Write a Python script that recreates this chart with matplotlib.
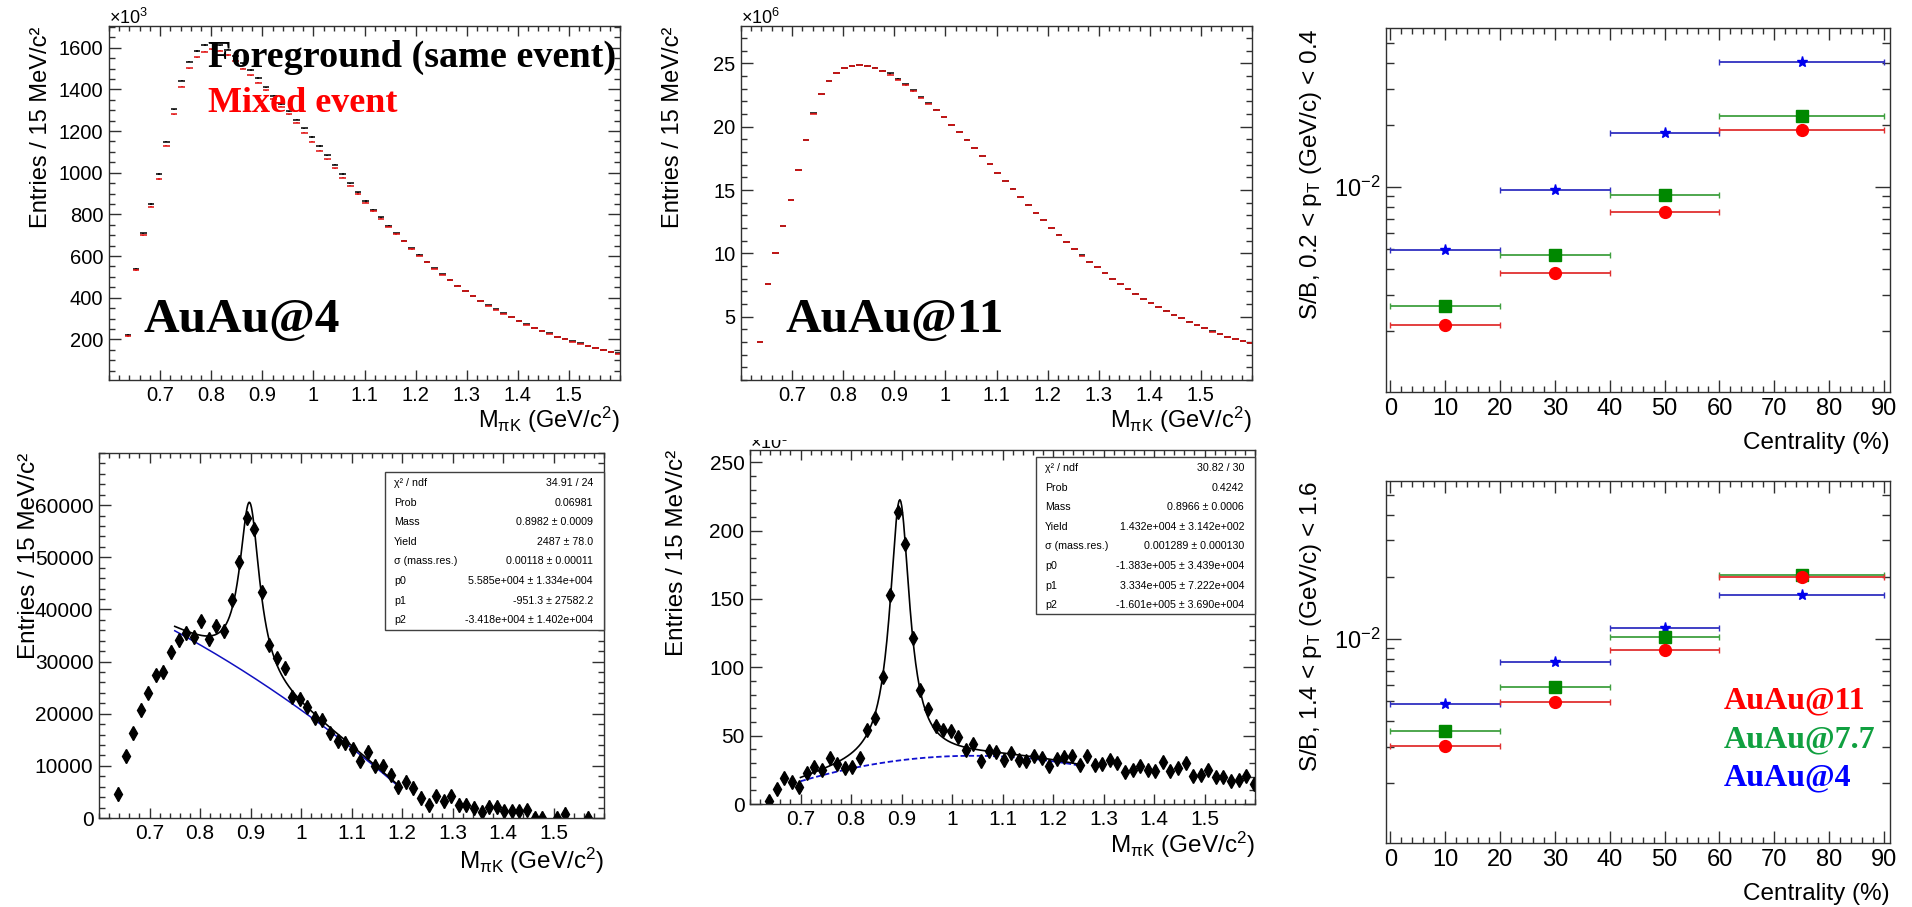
import numpy as np
import matplotlib
matplotlib.use("Agg")
import matplotlib.pyplot as plt
from matplotlib.patches import Rectangle
from matplotlib.transforms import Bbox
from matplotlib.ticker import MultipleLocator, FixedLocator, NullFormatter

plt.rcParams['font.family'] = ['Liberation Sans', 'DejaVu Sans']
plt.rcParams['mathtext.fontset'] = 'custom'
plt.rcParams['mathtext.rm'] = 'Liberation Sans'
plt.rcParams['mathtext.it'] = 'Liberation Sans:italic'
plt.rcParams['mathtext.bf'] = 'Liberation Sans:bold'

W, H = 1912, 907

# ---------------- data ----------------
# 15 MeV bins of the pi-K invariant mass, first edge at 0.63 GeV
bin_edge0 = 0.63
bin_width = 0.015
n_bins = 65

# AuAu@4: same-event and mixed-event distributions (x10^3 entries)
fg_auau4 = [221, 540, 709, 850, 994, 1149, 1304, 1442, 1533, 1584, 1613, 1621, 1612, 1590, 1560,
            1525, 1493, 1455, 1410, 1370, 1330, 1295, 1255, 1213, 1171, 1128, 1083, 1038, 994, 949,
            906, 864, 821, 786, 744, 709, 674, 637, 605, 571, 541, 512, 485, 456, 434, 410, 386,
            363, 344, 325, 306, 288, 272, 256, 242, 229, 213, 202, 190, 181, 170, 160, 149, 141, 133]
mix_auau4 = [215, 533, 699, 837, 970, 1130, 1280, 1413, 1501, 1554, 1581, 1592, 1585, 1565, 1535,
             1500, 1468, 1432, 1395, 1355, 1316, 1280, 1240, 1192, 1149, 1106, 1064, 1021, 976, 938,
             898, 856, 816, 780, 740, 705, 670, 634, 602, 569, 539, 510, 483, 455, 433, 409, 385,
             362, 343, 324, 305, 287, 271, 255, 241, 228, 212, 201, 189, 180, 169, 159, 148, 140, 132]

# AuAu@11: same-event and mixed-event distributions (x10^6 entries)
fg_auau11 = [3.03, 7.58, 10.05, 12.16, 14.21, 16.58, 18.95, 21.05, 22.58, 23.61,
             24.21, 24.61, 24.79, 24.87, 24.82, 24.66, 24.42, 24.20, 23.80, 23.34,
             22.86, 22.34, 21.85, 21.33, 20.80, 20.17, 19.56, 18.96, 18.30, 17.69,
             17.04, 16.38, 15.72, 15.09, 14.43, 13.83, 13.22, 12.64, 12.04, 11.46,
             10.88, 10.38, 9.83, 9.35, 8.90, 8.43, 7.98, 7.56, 7.17, 6.80,
             6.40, 6.06, 5.75, 5.46, 5.14, 4.88, 4.59, 4.33, 4.09, 3.83,
             3.62, 3.38, 3.22, 3.06, 2.96]
mix_auau11 = [3.02, 7.57, 10.04, 12.15, 14.20, 16.57, 18.94, 21.04, 22.57, 23.60,
              24.20, 24.60, 24.78, 24.86, 24.80, 24.63, 24.36, 24.10, 23.70, 23.26,
              22.80, 22.30, 21.82, 21.31, 20.78, 20.16, 19.55, 18.95, 18.29, 17.68,
              17.03, 16.37, 15.71, 15.08, 14.42, 13.82, 13.21, 12.63, 12.03, 11.45,
              10.87, 10.37, 9.82, 9.34, 8.89, 8.42, 7.97, 7.55, 7.16, 6.79,
              6.39, 6.05, 5.74, 5.45, 5.13, 4.87, 4.58, 4.32, 4.08, 3.82,
              3.61, 3.37, 3.21, 3.05, 2.95]

# background-subtracted signal
nan = np.nan
sig_auau4 = [4640, 11830, 16220, 20670, 24050, 27350, 27990, 31870, 34100, 35500,
             34670, 37720, 34350, 36770, 35810, 41860, 49050, 57570, 55340, 43380,
             33270, 30600, 28820, 23220, 22770, 21310, 19270, 18830, 16220, 14820,
             14380, 13230, 11000, 12720, 10050, 10050, 8330, 5920, 6870, 5730,
             3880, 2420, 4130, 3180, 4130, 2540, 2540, 1910, 1150, 2100,
             2100, 1270, 1270, 1270, 1460, 60, 60, nan, 60, 830,
             nan, nan, 60, nan, nan]
sig_auau4_err = 1300
sig_auau11 = [1.95, 11.0, 19.0, 15.9, 12.4, 22.7, 26.8, 25.1, 33.7, 29.3,
              26.3, 26.8, 33.7, 54.4, 62.9, 92.9, 152.9, 213.4, 190.0, 121.5,
              83.7, 69.8, 56.8, 53.9, 53.2, 48.8, 39.8, 43.9, 31.7, 38.5,
              38.0, 32.0, 37.3, 32.0, 31.7, 34.9, 33.7, 27.6, 32.9, 34.1,
              34.9, 28.3, 34.9, 28.8, 29.5, 32.0, 30.0, 23.2, 25.1, 27.6,
              24.6, 24.4, 30.5, 24.4, 26.3, 30.0, 20.7, 21.5, 25.1, 19.5,
              19.8, 16.6, 17.8, 20.2, 14.9]
sig_auau11_err = 4.0

# fit results (Breit-Wigner + pol2)
kstar_width = 0.0478
fit4 = dict(mass=0.8982, yld=2487.0, p0=5.585e4, p1=-951.3, p2=-3.418e4, lo=0.75, hi=1.195)
fit11 = dict(mass=0.8966, yld=1.432e4, p0=-1.383e5, p1=3.334e5, p2=-1.601e5, lo=0.70, hi=1.25)

stat_names = ["χ² / ndf", "Prob", "Mass", "Yield", "σ (mass.res.)", "p0", "p1", "p2"]
stat_vals4 = ["34.91 / 24", "0.06981", "0.8982 ± 0.0009", "2487 ± 78.0", "0.00118 ± 0.00011",
              "5.585e+004 ± 1.334e+004", "-951.3 ± 27582.2", "-3.418e+004 ± 1.402e+004"]
stat_vals11 = ["30.82 / 30", "0.4242", "0.8966 ± 0.0006", "1.432e+004 ± 3.142e+002",
               "0.001289 ± 0.000130", "-1.383e+005 ± 3.439e+004", "3.334e+005 ± 7.222e+004",
               "-1.601e+005 ± 3.690e+004"]

# signal / background vs centrality
centrality = [10, 30, 50, 75]
centrality_err = [10, 10, 10, 15]
sb_low_11 = [2.14e-3, 3.82e-3, 7.52e-3, 1.90e-2]
sb_low_77 = [2.65e-3, 4.70e-3, 9.10e-3, 2.22e-2]
sb_low_4 = [4.97e-3, 9.63e-3, 1.82e-2, 4.06e-2]
sb_high_11 = [3.04e-3, 4.97e-3, 8.82e-3, 2.00e-2]
sb_high_77 = [3.60e-3, 5.89e-3, 1.02e-2, 2.04e-2]
sb_high_4 = [4.83e-3, 7.77e-3, 1.127e-2, 1.64e-2]

mass = bin_edge0 + bin_width * (np.arange(n_bins) + 0.5)

# ---------------- helpers ----------------
fig = plt.figure(figsize=(W / 100, H / 100), dpi=100)


def px_axes(l, t, r, b):
    return fig.add_axes([l / W, 1 - b / H, (r - l) / W, (b - t) / H])


def ftext(x, y, s, **kw):
    return fig.text(x / W, 1 - y / H, s, **kw)


def root_style(ax, labelsize=14.5, xmaj=7.2, ymaj=8.6):
    ax.tick_params(which='both', direction='in', top=True, right=True,
                   color='#303030', width=1.0, labelsize=labelsize, pad=4)
    ax.tick_params(axis='x', which='major', length=xmaj)
    ax.tick_params(axis='x', which='minor', length=xmaj / 2)
    ax.tick_params(axis='y', which='major', length=ymaj)
    ax.tick_params(axis='y', which='minor', length=ymaj / 2)
    for s in ax.spines.values():
        s.set_linewidth(1.0)
        s.set_color('#303030')


def mass_axis(ax):
    ax.set_xlim(0.6, 1.6)
    ax.xaxis.set_major_locator(FixedLocator([0.7, 0.8, 0.9, 1.0, 1.1, 1.2, 1.3, 1.4, 1.5]))
    ax.xaxis.set_major_formatter(plt.FixedFormatter(["0.7", "0.8", "0.9", "1", "1.1", "1.2", "1.3", "1.4", "1.5"]))
    ax.xaxis.set_minor_locator(MultipleLocator(0.02))


def fit_curve(f, m):
    bg = f['p0'] + f['p1'] * m + f['p2'] * m ** 2
    bw = f['yld'] * kstar_width / (2 * np.pi) / ((m - f['mass']) ** 2 + kstar_width ** 2 / 4)
    return bg + bw, bg


def stats_box(l, t, r, b, rows_top, vals):
    fig.add_artist(Rectangle((l / W, 1 - b / H), (r - l) / W, (b - t) / H,
                             transform=fig.transFigure, facecolor='white',
                             edgecolor='#404040', linewidth=1.0, zorder=5))
    for k, (name, val) in enumerate(zip(stat_names, vals)):
        y = rows_top + 19.6 * k
        ftext(l + 9, y, name, ha='left', va='center', fontsize=7.7, zorder=6)
        ftext(r - 11, y, val, ha='right', va='center', fontsize=7.7, zorder=6)


mlabel = r"M$_{\mathregular{πK}}$ (GeV/c$^{\mathregular{2}}$)"
ylab_mass = "Entries / 15 MeV/c²"
times = ['Liberation Serif', 'DejaVu Serif']

# ---------------- top left: AuAu@4 foreground / mixed ----------------
ax = px_axes(109, 26, 620, 380)
ax.errorbar(mass, fg_auau4, xerr=0.0065, yerr=3, fmt='none', ecolor='black', elinewidth=1.1)
ax.errorbar(mass, mix_auau4, xerr=0.0065, yerr=3, fmt='none', ecolor='#e01010', elinewidth=1.1)
mass_axis(ax)
ax.set_ylim(5, 1704)
ax.yaxis.set_major_locator(FixedLocator([200, 400, 600, 800, 1000, 1200, 1400, 1600]))
ax.yaxis.set_minor_locator(MultipleLocator(50))
root_style(ax)
ftext(109, 24, r"$\times$10$^{3}$", ha='left', va='baseline', fontsize=13)
ftext(41, 27, ylab_mass, rotation=90, ha='center', va='top', fontsize=17)
ftext(620, 428, mlabel, ha='right', va='baseline', fontsize=17)
ftext(208, 67, "Foreground (same event)", family=times, fontweight='bold', fontsize=27.5,
      ha='left', va='baseline', color='black')
ftext(208, 112, "Mixed event", family=times, fontweight='bold', fontsize=26,
      ha='left', va='baseline', color='#ff0000')
ftext(143, 332, "AuAu@4", family=times, fontweight='bold', fontsize=35.5,
      ha='left', va='baseline', color='black')

# ---------------- top middle: AuAu@11 foreground / mixed ----------------
ax = px_axes(741, 26, 1252, 380)
ax.errorbar(mass, fg_auau11, xerr=0.0065, yerr=0.03, fmt='none', ecolor='black', elinewidth=1.1)
ax.errorbar(mass, mix_auau11, xerr=0.0065, yerr=0.03, fmt='none', ecolor='#e01010', elinewidth=1.1)
mass_axis(ax)
ax.set_ylim(0, 27.95)
ax.yaxis.set_major_locator(FixedLocator([5, 10, 15, 20, 25]))
ax.yaxis.set_minor_locator(MultipleLocator(1))
root_style(ax)
ftext(741, 24, r"$\times$10$^{6}$", ha='left', va='baseline', fontsize=13)
ftext(673, 27, ylab_mass, rotation=90, ha='center', va='top', fontsize=17)
ftext(1252, 428, mlabel, ha='right', va='baseline', fontsize=17)
ftext(785, 332, "AuAu@11", family=times, fontweight='bold', fontsize=35.5,
      ha='left', va='baseline', color='black')

# ---------------- bottom left: AuAu@4 signal with fit ----------------
ax = px_axes(99, 453, 604, 818)
ax.errorbar(mass, sig_auau4, yerr=sig_auau4_err, fmt='d', color='black', markersize=7,
            elinewidth=1.0, capsize=0)
m4 = np.linspace(fit4['lo'], fit4['hi'], 300)
tot4, bg4 = fit_curve(fit4, m4)
ax.plot(m4, bg4, color='#1010c0', lw=1.1)
ax.plot(m4, tot4, color='black', lw=1.2)
mass_axis(ax)
ax.set_ylim(0, 70000)
ax.yaxis.set_major_locator(FixedLocator([0, 10000, 20000, 30000, 40000, 50000, 60000]))
ax.yaxis.set_minor_locator(MultipleLocator(2000))
root_style(ax, labelsize=15)
ftext(29, 453, ylab_mass, rotation=90, ha='center', va='top', fontsize=17.5)
ftext(604, 869, mlabel, ha='right', va='baseline', fontsize=17.5)
stats_box(385, 472, 604, 630, 483, stat_vals4)

# ---------------- bottom middle: AuAu@11 signal with fit ----------------
ax = px_axes(750, 450, 1255, 804)
ax.errorbar(mass, sig_auau11, yerr=sig_auau11_err, fmt='d', color='black', markersize=7,
            elinewidth=1.0, capsize=0)
m11 = np.linspace(fit11['lo'], fit11['hi'], 300)
tot11, bg11 = fit_curve(fit11, m11)
ax.plot(m11, bg11 / 1000, color='#1010d0', lw=1.3, ls=(0, (3, 1.5)))
ax.plot(m11, tot11 / 1000, color='black', lw=1.2)
mass_axis(ax)
ax.set_ylim(0, 259)
ax.yaxis.set_major_locator(MultipleLocator(50))
ax.yaxis.set_minor_locator(MultipleLocator(10))
root_style(ax, labelsize=15)
t = ftext(750, 449, r"$\times$10$^{3}$", ha='left', va='baseline', fontsize=13)
t.set_clip_box(Bbox.from_extents(700, 0, 900, H - 440))
ftext(677, 450, ylab_mass, rotation=90, ha='center', va='top', fontsize=17.5)
ftext(1255, 853, mlabel, ha='right', va='baseline', fontsize=17.5)
stats_box(1036, 457, 1255, 614, 468, stat_vals11)


# ---------------- right column: S/B vs centrality ----------------
def sb_panel(box, s11, s77, s4, ylabel, xlab_y, ylim):
    ax = px_axes(*box)
    ax.errorbar(centrality, s4, xerr=centrality_err, fmt='*', color='#0000ee', ecolor='#3030c0',
                markersize=8, elinewidth=1.3, capsize=2.5, capthick=1.0)
    ax.errorbar(centrality, s77, xerr=centrality_err, fmt='s', color='#008800', ecolor='#40a040',
                markersize=8, elinewidth=1.3, capsize=2.5, capthick=1.0)
    ax.errorbar(centrality, s11, xerr=centrality_err, fmt='o', color='#ff0000', ecolor='#e03030',
                markersize=8.5, elinewidth=1.3, capsize=2.5, capthick=1.0)
    ax.set_yscale('log')
    ax.set_xlim(-0.8, 91.1)
    ax.set_ylim(*ylim)
    ax.xaxis.set_major_locator(MultipleLocator(10))
    ax.xaxis.set_minor_locator(MultipleLocator(2))
    ax.yaxis.set_major_locator(FixedLocator([1e-2]))
    ax.yaxis.set_minor_locator(FixedLocator([2e-3, 3e-3, 4e-3, 5e-3, 6e-3, 7e-3, 8e-3, 9e-3,
                                             2e-2, 3e-2, 4e-2, 5e-2]))
    ax.yaxis.set_minor_formatter(NullFormatter())
    root_style(ax, labelsize=17, xmaj=8.6, ymaj=10.8)
    ax.tick_params(axis='y', which='minor', length=5.8)
    l, t, r, b = box
    ftext(1311, t, ylabel, rotation=90, ha='center', va='top', fontsize=17.5)
    ftext(r, xlab_y, "Centrality (%)", ha='right', va='baseline', fontsize=17.5)
    return ax


sb_panel((1386, 28, 1890, 392), sb_low_11, sb_low_77, sb_low_4,
         r"S/B, 0.2 < p$_{\mathregular{T}}$ (GeV/c) < 0.4", 449, (1.01e-3, 5.92e-2))
sb_panel((1386, 481, 1890, 843), sb_high_11, sb_high_77, sb_high_4,
         r"S/B, 1.4 < p$_{\mathregular{T}}$ (GeV/c) < 1.6", 900, (1.03e-3, 5.82e-2))

ftext(1724, 708, "AuAu@11", family=times, fontweight='bold', fontsize=23, color='#ff0000',
      ha='left', va='baseline')
ftext(1724, 747, "AuAu@7.7", family=times, fontweight='bold', fontsize=23, color='#10a040',
      ha='left', va='baseline')
ftext(1724, 785, "AuAu@4", family=times, fontweight='bold', fontsize=23, color='#0000ff',
      ha='left', va='baseline')

fig.savefig("out.png", dpi=100, facecolor='white')
